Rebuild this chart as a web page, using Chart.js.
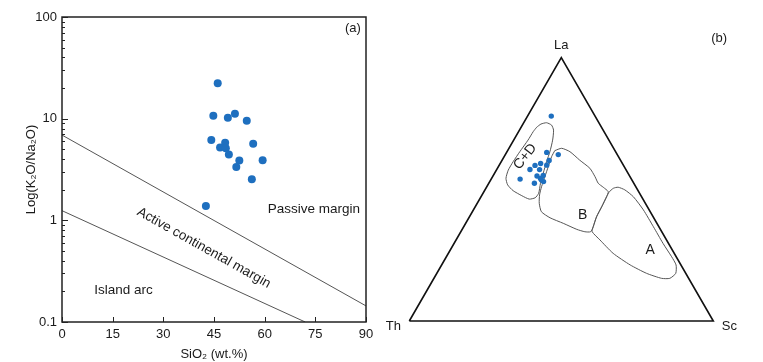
<!DOCTYPE html>
<html>
<head>
<meta charset="utf-8">
<script src="https://cdn.jsdelivr.net/npm/chart.js@4.4.0/dist/chart.umd.min.js"></script>
<style>
html, body { margin: 0; padding: 0; background: #fff; }
#wrap { position: relative; width: 763px; height: 362px; }
#boxA { position: absolute; left: 0; top: 0; width: 380px; height: 362px; }
#boxB { position: absolute; left: 380px; top: 0; width: 383px; height: 362px; }
</style>
</head>
<body>
<div id="wrap">
  <div id="boxA"><canvas id="chartA" width="380" height="362"></canvas></div>
  <div id="boxB"><canvas id="chartB" width="383" height="362"></canvas></div>
</div>
<script>
// --- (a) SiO2 vs K2O/Na2O ---
const sio2 = [46.1, 44.8, 49.1, 51.2, 54.7, 44.2, 48.3, 46.8, 48.5, 49.4, 56.6, 52.5, 51.6, 59.4, 56.2, 42.6];
const k2oNa2o = [22.3, 10.7, 10.2, 11.2, 9.55, 6.18, 5.81, 5.19, 5.12, 4.43, 5.68, 3.87, 3.35, 3.90, 2.54, 1.38];

// boundaries [SiO2, K2O/Na2O]
const passiveAcmLine = [[0, 6.9], [90, 0.144]];
const acmArcLine = [[0, 1.245], [72, 0.1]];

const xTicksA = [0, 15, 30, 45, 60, 75, 90];
const yMajorA = [0.1, 1, 10, 100];

// --- (b) La-Th-Sc ternary (%) ---
const laB = [77.9, 63.2, 64.1, 61.0, 59.2, 59.8, 59.1, 57.5, 57.5, 53.9, 55.1, 55.3, 54.1, 53.0, 53.6, 52.3];
const thB = [14.4, 19.4, 22.8, 23.5, 25.2, 26.9, 29.1, 31.5, 28.4, 36.6, 30.5, 28.3, 29.8, 29.4, 29.7, 32.7];
const scB = [7.8, 17.4, 13.2, 15.5, 15.6, 13.3, 11.8, 10.9, 14.1, 9.5, 14.5, 16.4, 16.1, 17.7, 16.7, 15.0];

// field outlines, [La, Sc] in %, Th = 100 - La - Sc
const fieldCD = [[73.6, 5.1], [74.8, 5.9], [75.3, 7.5], [74.4, 9.6], [72.5, 11.2], [68.7, 12.8], [64.3, 14.1],
  [60.5, 14.9], [56.1, 16.0], [52.3, 17.0], [48.5, 18.3], [46.8, 18.0], [46.3, 16.3], [47.6, 13.2], [49.5, 9.4],
  [51.7, 6.5], [54.2, 4.7], [57.3, 3.9], [60.5, 3.9], [64.3, 4.2], [68.7, 4.7], [71.9, 4.8], [73.6, 5.1]];
const fieldB = [[64.7, 15.5], [65.6, 17.3], [64.3, 20.7], [61.1, 25.5], [58.0, 30.4], [54.8, 33.7], [52.3, 36.0],
  [50.8, 38.4], [49.1, 40.9], [47.2, 41.3], [43.4, 41.6], [39.6, 41.8], [35.8, 42.6], [33.9, 42.7], [33.9, 40.8],
  [34.8, 37.7], [37.1, 32.1], [39.2, 26.7], [41.5, 22.7], [44.7, 20.4], [47.9, 18.9], [51.0, 18.0], [54.8, 17.2],
  [58.6, 16.4], [62.4, 15.6], [64.7, 15.5]];
const fieldA = [[48.9, 41.2], [50.4, 41.9], [50.8, 43.3], [49.8, 46.0], [47.2, 50.1], [42.2, 55.9], [35.8, 62.4],
  [29.5, 68.7], [24.4, 74.1], [21.3, 77.1], [18.1, 78.6], [16.2, 77.6], [16.2, 74.9], [18.1, 69.0], [21.3, 62.0],
  [25.7, 54.2], [30.8, 47.3], [33.9, 43.2], [35.8, 42.6], [39.6, 41.8], [43.4, 41.6], [47.2, 41.3], [48.9, 41.2]];

const blue = '#1e6fbf';
const fontFam = '"Liberation Sans", Arial, sans-serif';
Chart.defaults.font.family = fontFam;
Chart.defaults.color = '#1a1a1a';

const pts = arr => arr.map(p => ({ x: p[0], y: p[1] }));

// ternary -> cartesian (Th left, Sc right, La top)
const toXY = (la, sc, th) => {
    const t = la + sc + (th === undefined ? 100 - la - sc : th);
    return { x: (sc + la / 2) / t, y: la / t * Math.sqrt(3) / 2 };
};

// --- plugin (a): frame, inward ticks, labels ---
const decorA = {
    id: 'decorA',
    afterDraw(chart) {
        const { ctx, chartArea: ca, scales } = chart;
        const xs = scales.x, ys = scales.y;
        ctx.save();
        ctx.strokeStyle = '#222';
        ctx.lineWidth = 1.5;
        ctx.strokeRect(ca.left, ca.top, ca.right - ca.left, ca.bottom - ca.top);
        ctx.lineWidth = 1;
        ctx.beginPath();
        ys.ticks.forEach(t => {
            const y = Math.round(ys.getPixelForValue(t.value)) + 0.5;
            const len = yMajorA.includes(t.value) ? 6 : 3;
            ctx.moveTo(ca.left, y);
            ctx.lineTo(ca.left + len, y);
        });
        xTicksA.forEach(v => {
            const x = Math.round(xs.getPixelForValue(v)) + 0.5;
            ctx.moveTo(x, ca.bottom);
            ctx.lineTo(x, ca.bottom - 5);
        });
        ctx.stroke();

        ctx.fillStyle = '#1a1a1a';
        ctx.textAlign = 'center';
        ctx.textBaseline = 'middle';
        ctx.font = '13.5px ' + fontFam;
        ctx.fillText('Passive margin', xs.getPixelForValue(74.6), ys.getPixelForValue(1.29));
        ctx.fillText('Island arc', xs.getPixelForValue(18.2), ys.getPixelForValue(0.207));
        ctx.font = '13px ' + fontFam;
        ctx.fillText('(a)', xs.getPixelForValue(86.1), ys.getPixelForValue(78));

        // rotate along the upper boundary
        const x0 = xs.getPixelForValue(passiveAcmLine[0][0]), y0 = ys.getPixelForValue(passiveAcmLine[0][1]);
        const x1 = xs.getPixelForValue(passiveAcmLine[1][0]), y1 = ys.getPixelForValue(passiveAcmLine[1][1]);
        const ang = Math.atan2(y1 - y0, x1 - x0);
        ctx.translate(xs.getPixelForValue(42), ys.getPixelForValue(0.536));
        ctx.rotate(ang);
        ctx.font = '13.5px ' + fontFam;
        ctx.fillText('Active continental margin', 0, 0);
        ctx.restore();
    }
};

new Chart(document.getElementById('chartA'), {
    type: 'scatter',
    data: {
        datasets: [
            { data: sio2.map((x, i) => ({ x, y: k2oNa2o[i] })), backgroundColor: blue, borderColor: blue, borderWidth: 0, pointRadius: 4, order: 0 },
            { data: pts(passiveAcmLine), showLine: true, borderColor: '#555', borderWidth: 1, pointRadius: 0, order: 1 },
            { data: pts(acmArcLine), showLine: true, borderColor: '#555', borderWidth: 1, pointRadius: 0, order: 1 }
        ]
    },
    options: {
        responsive: false,
        animation: false,
        layout: { autoPadding: false, padding: { left: 20, top: 17, right: 14, bottom: 0 } },
        plugins: { legend: { display: false }, tooltip: { enabled: false } },
        scales: {
            x: {
                type: 'linear', min: 0, max: 90,
                afterBuildTicks: s => { s.ticks = xTicksA.map(v => ({ value: v })); },
                grid: { display: false, drawTicks: false },
                border: { display: false },
                ticks: { padding: 5, maxRotation: 0, font: { size: 13 }, color: '#1a1a1a' },
                title: { display: true, text: 'SiO₂ (wt.%)', font: { size: 13 }, color: '#1a1a1a', padding: { top: 2, bottom: 0 } },
                afterFit: s => { s.height = 40; }
            },
            y: {
                type: 'logarithmic', min: 0.1, max: 100,
                afterBuildTicks: s => {
                    const t = [];
                    yMajorA.forEach((d, i) => {
                        t.push({ value: d });
                        if (i < yMajorA.length - 1) for (let k = 2; k <= 9; k++) t.push({ value: k * d });
                    });
                    s.ticks = t;
                },
                grid: { display: false, drawTicks: false },
                border: { display: false },
                ticks: {
                    padding: 5, autoSkip: false, font: { size: 13 }, color: '#1a1a1a',
                    callback: v => yMajorA.includes(v) ? String(v) : ''
                },
                title: { display: true, text: 'Log(K₂O/Na₂O)', font: { size: 13 }, color: '#1a1a1a', padding: { top: 4, bottom: 0 } },
                afterFit: s => { s.width = 42; }
            }
        }
    },
    plugins: [decorA]
});

// --- plugin (b): vertex and field labels ---
const decorB = {
    id: 'decorB',
    afterDraw(chart) {
        const { ctx, scales } = chart;
        const xs = scales.x, ys = scales.y;
        const px = p => [xs.getPixelForValue(p.x), ys.getPixelForValue(p.y)];
        ctx.save();
        ctx.fillStyle = '#1a1a1a';
        ctx.textAlign = 'center';
        ctx.textBaseline = 'middle';
        ctx.font = '13px ' + fontFam;
        let [x, y] = px(toXY(100, 0));
        ctx.fillText('La', x, y - 12);
        [x, y] = px(toXY(0, 0));
        ctx.fillText('Th', x - 16, y + 5);
        [x, y] = px(toXY(0, 100));
        ctx.fillText('Sc', x + 16, y + 5);
        ctx.fillText('(b)', xs.getPixelForValue(1.019), ys.getPixelForValue(0.931));

        ctx.font = '14px ' + fontFam;
        [x, y] = px(toXY(40.3, 36.9));
        ctx.fillText('B', x, y);
        [x, y] = px(toXY(27.0, 65.7));
        ctx.fillText('A', x, y);
        [x, y] = px(toXY(62.4, 6.9));
        ctx.translate(x, y);
        ctx.rotate(-52 * Math.PI / 180);
        ctx.fillText('C+D', 0, 0);
        ctx.restore();
    }
};

const triangle = [toXY(0, 0), toXY(0, 100), toXY(100, 0), toXY(0, 0)];
const fieldStyle = { showLine: true, borderColor: '#555', borderWidth: 1, pointRadius: 0, tension: 0.2, fill: false, order: 2 };

new Chart(document.getElementById('chartB'), {
    type: 'scatter',
    data: {
        datasets: [
            { data: laB.map((la, i) => toXY(la, scB[i], thB[i])), backgroundColor: blue, borderColor: blue, borderWidth: 0, pointRadius: 2.7, order: 0 },
            { data: triangle, showLine: true, borderColor: '#111', borderWidth: 1.6, pointRadius: 0, order: 1 },
            { ...fieldStyle, data: fieldCD.map(p => toXY(p[0], p[1])) },
            { ...fieldStyle, data: fieldB.map(p => toXY(p[0], p[1])) },
            { ...fieldStyle, data: fieldA.map(p => toXY(p[0], p[1])) }
        ]
    },
    options: {
        responsive: false,
        animation: false,
        layout: { autoPadding: false, padding: 0 },
        plugins: { legend: { display: false }, tooltip: { enabled: false } },
        scales: {
            x: { type: 'linear', min: -0.0964, max: 1.1635, display: false },
            y: { type: 'linear', min: -0.1349, max: 1.0559, display: false }
        }
    },
    plugins: [decorB]
});
</script>
</body>
</html>
